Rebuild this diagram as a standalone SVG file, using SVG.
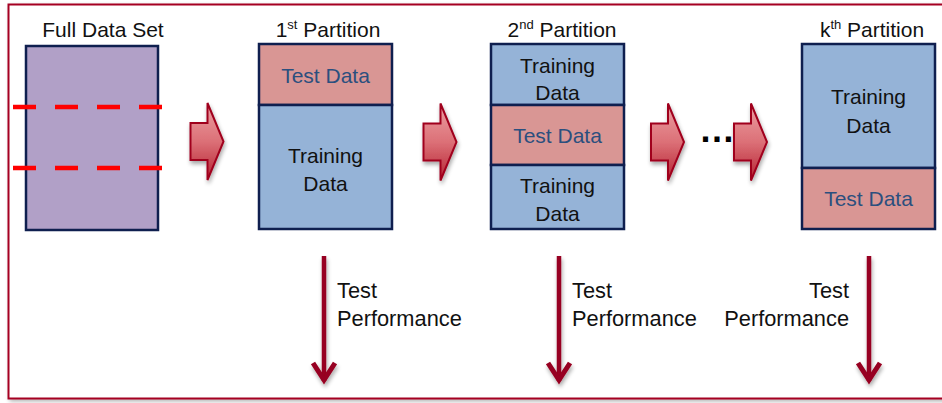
<svg xmlns="http://www.w3.org/2000/svg" width="942" height="403" viewBox="0 0 942 403">
  <defs>
    <linearGradient id="blockGrad" x1="0" y1="0" x2="0" y2="1">
      <stop offset="0" stop-color="#eba0a3"/>
      <stop offset="0.5" stop-color="#dc7077"/>
      <stop offset="1" stop-color="#b52433"/>
    </linearGradient>
    <filter id="shadow" x="-30%" y="-20%" width="160%" height="150%">
      <feGaussianBlur in="SourceAlpha" stdDeviation="2"/>
      <feOffset dx="1" dy="3" result="b"/>
      <feComponentTransfer><feFuncA type="linear" slope="0.35"/></feComponentTransfer>
      <feMerge><feMergeNode/><feMergeNode in="SourceGraphic"/></feMerge>
    </filter>
    <filter id="frameShadow" x="-5%" y="-5%" width="110%" height="110%">
      <feGaussianBlur in="SourceAlpha" stdDeviation="2"/>
      <feOffset dx="2" dy="2"/>
      <feComponentTransfer><feFuncA type="linear" slope="0.3"/></feComponentTransfer>
      <feMerge><feMergeNode/><feMergeNode in="SourceGraphic"/></feMerge>
    </filter>
    <path id="blockArrow" d="M0,20 H17 V0 L33,38.5 L17,77 V57 H0 Z"/>
  </defs>
  <style>
    text { font-family: "Liberation Sans", Arial, sans-serif; font-size: 21px; fill: #111; }
    .mid { text-anchor: middle; }
    .end { text-anchor: end; }
    .perf { font-size: 21.8px; }
    .test { fill: #2b4f7e; }
    .box { stroke: #0f1f4f; stroke-width: 2.5; }
    .full { fill: #b1a0c7; }
    .train { fill: #95b3d7; }
    .testfill { fill: #d99694; }
    .cut { stroke: #ff0000; stroke-width: 4.5; stroke-dasharray: 23 19; fill: none; }
    .block { fill: url(#blockGrad); stroke: #a0001e; stroke-width: 2; stroke-linejoin: miter; }
    .down { stroke: #970020; stroke-width: 4.5; fill: none; }
    .head { stroke: #970020; stroke-width: 5; fill: none; stroke-linejoin: miter; }
    .sup { font-size: 13px; }
  </style>

  <!-- outer frame -->
  <rect x="8.5" y="4.5" width="960" height="394" fill="#ffffff" stroke="#a50021" stroke-width="2" filter="url(#frameShadow)"/>

  <!-- full data set -->
  <g id="full-data-set">
    <text x="103" y="37" class="mid">Full Data Set</text>
    <rect x="26" y="46" width="132" height="184" class="box full"/>
    <line x1="13" y1="107" x2="165" y2="107" class="cut"/>
    <line x1="13" y1="168" x2="165" y2="168" class="cut"/>
  </g>

  <!-- 1st partition -->
  <g id="partition-1">
    <text x="328" y="37" class="mid">1<tspan class="sup" dy="-8">st</tspan><tspan dy="8"> Partition</tspan></text>
    <rect x="259" y="44" width="133" height="61" class="box testfill"/>
    <rect x="259" y="105" width="133" height="124" class="box train"/>
    <text x="325.5" y="83" class="mid test">Test Data</text>
    <text x="325.5" y="163" class="mid">Training</text>
    <text x="325.5" y="191" class="mid">Data</text>
  </g>

  <!-- 2nd partition -->
  <g id="partition-2">
    <text x="562" y="37" class="mid">2<tspan class="sup" dy="-8">nd</tspan><tspan dy="8"> Partition</tspan></text>
    <rect x="491" y="44" width="133" height="61" class="box train"/>
    <rect x="491" y="105" width="133" height="60" class="box testfill"/>
    <rect x="491" y="165" width="133" height="64" class="box train"/>
    <text x="557.5" y="73" class="mid">Training</text>
    <text x="557.5" y="100" class="mid">Data</text>
    <text x="557.5" y="143" class="mid test">Test Data</text>
    <text x="557.5" y="193" class="mid">Training</text>
    <text x="557.5" y="221" class="mid">Data</text>
  </g>

  <!-- kth partition -->
  <g id="partition-k">
    <text x="872" y="37" class="mid">k<tspan class="sup" dy="-8">th</tspan><tspan dy="8"> Partition</tspan></text>
    <rect x="802" y="44" width="133" height="124" class="box train"/>
    <rect x="802" y="168" width="133" height="61" class="box testfill"/>
    <text x="868.5" y="104" class="mid">Training</text>
    <text x="868.5" y="133" class="mid">Data</text>
    <text x="868.5" y="206" class="mid test">Test Data</text>
  </g>

  <!-- ellipsis between 2nd and kth -->
  <g id="ellipsis">
    <text x="717" y="142" class="mid" style="font-size:36px;font-weight:bold;fill:#000">…</text>
  </g>

  <!-- connectors -->
  <g id="connectors">
    <use href="#blockArrow" x="190.5" y="103" class="block" filter="url(#shadow)"/>
    <use href="#blockArrow" x="423.5" y="103.5" class="block" filter="url(#shadow)"/>
    <use href="#blockArrow" x="651" y="103.5" class="block" filter="url(#shadow)"/>
    <use href="#blockArrow" x="734" y="103.5" class="block" filter="url(#shadow)"/>

    <g filter="url(#shadow)">
      <line x1="324" y1="256" x2="324" y2="381" class="down"/>
      <polyline points="313,363 324,380 335,363" class="head"/>
      <line x1="559" y1="256" x2="559" y2="381" class="down"/>
      <polyline points="548,363 559,380 570,363" class="head"/>
      <line x1="869" y1="256" x2="869" y2="381" class="down"/>
      <polyline points="858,363 869,380 880,363" class="head"/>
    </g>
  </g>

  <!-- result labels -->
  <g id="labels">
    <text x="337" y="298" class="perf">Test</text>
    <text x="337" y="326" class="perf">Performance</text>
    <text x="572" y="298" class="perf">Test</text>
    <text x="572" y="326" class="perf">Performance</text>
    <text x="849" y="298" class="end perf">Test</text>
    <text x="849" y="326" class="end perf">Performance</text>
  </g>
</svg>
